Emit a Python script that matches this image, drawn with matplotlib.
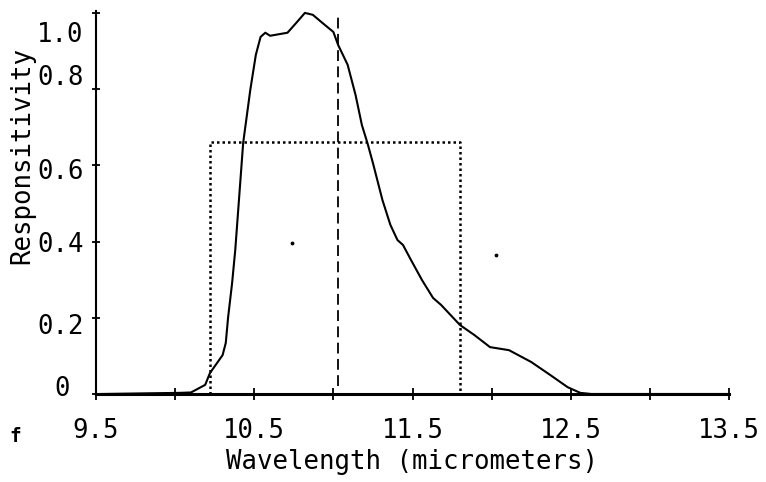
import matplotlib
matplotlib.use("Agg")
import matplotlib.pyplot as plt
import matplotlib.transforms as mtransforms

# ---- data ----
wavelength = [9.53, 10.03, 10.10, 10.19, 10.22, 10.30, 10.32, 10.335, 10.36, 10.38,
              10.43, 10.475, 10.51, 10.54, 10.57, 10.60, 10.71, 10.77, 10.82, 10.87,
              10.93, 11.00, 11.03, 11.09, 11.14, 11.18, 11.215, 11.25, 11.31, 11.36,
              11.405, 11.44, 11.49, 11.56, 11.63, 11.68, 11.80, 11.89, 11.99, 12.11,
              12.25, 12.37, 12.48, 12.56, 12.63, 13.50]
responsivity = [0.0, 0.003, 0.004, 0.024, 0.055, 0.102, 0.134, 0.202, 0.291, 0.378,
                0.659, 0.798, 0.890, 0.937, 0.948, 0.940, 0.948, 0.976, 1.000, 0.995,
                0.974, 0.950, 0.916, 0.864, 0.785, 0.706, 0.659, 0.606, 0.509, 0.444,
                0.404, 0.391, 0.352, 0.299, 0.252, 0.234, 0.181, 0.155, 0.123, 0.115,
                0.084, 0.050, 0.018, 0.003, 0.0, 0.0]

band_lo, band_hi, band_level = 10.22, 11.80, 0.66       # dotted rectangle
center_wavelength = 11.03                              # dashed vertical line

xticks_major = [9.5, 10.5, 11.5, 12.5, 13.5]
xtick_labels = ["9.5", "10.5", "11.5", "12.5", "13.5"]
xticks_minor = [10.0, 11.0, 12.0, 13.0]
yticks = [0, 0.2, 0.4, 0.6, 0.8, 1.0]
ytick_labels = ["0", "0.2", "0.4", "0.6", "0.8", "1.0"]

stray_x = [10.74, 12.03]
stray_y = [0.396, 0.365]

# ---- figure ----
FONT = "DejaVu Sans Mono"
FS = 18.5
fig = plt.figure(figsize=(7.66, 4.82), dpi=100)
W, H = 766, 482
left, right, bottom, top = 96, 729, 394, 11
ax = fig.add_axes([left / W, 1 - bottom / H, (right - left) / W, (bottom - top) / H])

ax.plot(wavelength, responsivity, color="black", lw=1.5, solid_joinstyle="round")
ax.plot([band_lo, band_lo, band_hi, band_hi], [0, band_level, band_level, 0],
        color="black", lw=1.8, linestyle=(0, (1, 1.2)))
ax.plot([center_wavelength, center_wavelength], [0.02, 1.0],
        color="black", lw=1.3, linestyle=(0, (6, 3)))
ax.scatter(stray_x, stray_y, s=3, color="black")

ax.set_xlim(9.5, 13.5)
ax.set_ylim(0, 1.005)
for s in ["top", "right"]:
    ax.spines[s].set_visible(False)
ax.spines["bottom"].set_linewidth(2.2)
ax.spines["left"].set_linewidth(1.5)

ax.set_xticks(xticks_major)
ax.set_xticklabels(xtick_labels, family=FONT, fontsize=FS)
ax.set_xticks(xticks_minor, minor=True)
ax.tick_params(axis="x", which="both", direction="inout", length=9, width=1.3, pad=13)
ax.set_yticks(yticks)
ax.set_yticklabels(ytick_labels, family=FONT, fontsize=FS)
ax.tick_params(axis="y", direction="inout", length=6, width=1.3, pad=6)

# the scanned labels sit slightly off their ticks
y_offsets_px = [(-14, 8), (0, -6), (0, 0), (0, -4), (0, 14), (0, -19)]
for lab, (dx, dy) in zip(ax.get_yticklabels(), y_offsets_px):
    lab.set_transform(lab.get_transform() +
                      mtransforms.ScaledTranslation(dx / 100, dy / 100, fig.dpi_scale_trans))

ax.set_xlabel("Wavelength (micrometers)", family=FONT, fontsize=FS)
ax.xaxis.set_label_coords(0.5, -(462 - bottom) / (bottom - top))
ax.set_ylabel("Responsitivity", family=FONT, fontsize=FS)
ax.yaxis.set_label_coords(-(left - 22) / (right - left), (bottom - 155) / (bottom - top))
for lab in [ax.xaxis.label, ax.yaxis.label]:
    lab.set_verticalalignment("center")

fig.text(15 / W, 1 - 437 / H, "f", family=FONT, fontsize=14, fontweight="bold",
         ha="center", va="center")

fig.savefig("out.png", dpi=100)
